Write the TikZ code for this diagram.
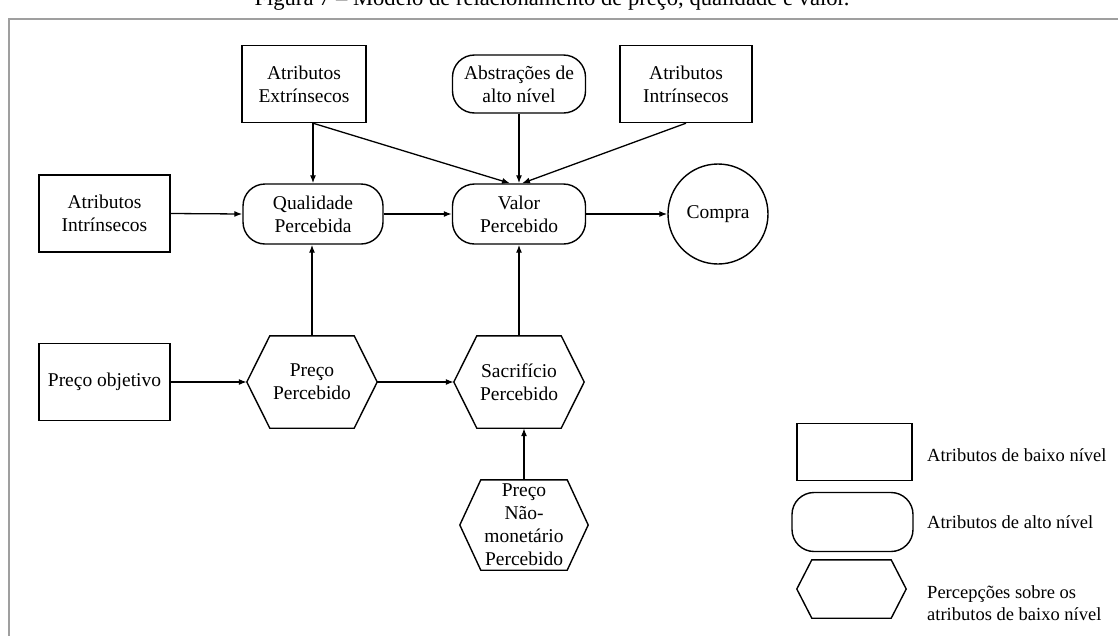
\documentclass[tikz,border=0pt]{standalone}
\usepackage{fontspec}
\setmainfont{Liberation Serif}
\usetikzlibrary{arrows.meta,calc}

% hexagonal outline drawn around a (borderless) rectangular node
\newcommand\hexoutline[2]{%
  \draw[line width=1.4pt]
    ($(#1.north west)+(#2,0)$) -- ($(#1.north east)+(-#2,0)$) -- (#1.east)
    -- ($(#1.south east)+(-#2,0)$) -- ($(#1.south west)+(#2,0)$) -- (#1.west) -- cycle;}

\begin{document}
\begin{tikzpicture}[x=1pt,y=-1pt,
  every node/.style={font=\fontsize{19.5}{23}\selectfont, align=center, inner sep=0pt},
  lowbox/.style={draw, line width=1.4pt, minimum width=131pt, minimum height=77pt},
  highbox/.style={draw, line width=1.4pt, rounded corners=22pt, minimum width=140pt, minimum height=60pt},
  hexbox/.style={minimum width=130pt, minimum height=92pt},
  link/.style={line width=1.3pt, -{Latex[length=8pt,width=6pt]}},
  legendtext/.style={anchor=west, align=left, font=\fontsize{18.5}{22}\selectfont},
]
\useasboundingbox (0,0) rectangle (1118,635);
\clip (0,0) rectangle (1118,635);

% caption and frame
\node[anchor=base, font=\fontsize{22.6}{26}\selectfont] (title) at (552,5.5)
  {Figura 7 -- Modelo de relacionamento de preço, qualidade e valor.};
\draw[gray!75, line width=2pt] (9,645) -- (9,19) -- (1130,19);

% top row
\node[lowbox, minimum width=124pt] (ext) at (304,84) {Atributos\\Extrínsecos};
\node[highbox, minimum width=133pt, minimum height=58pt] (abs) at (519,84) {Abstrações de\\alto nível};
\node[lowbox, minimum width=132pt] (intT) at (686,84) {Atributos\\Intrínsecos};

% middle row
\node[lowbox] (intL) at (104.5,213.5) {Atributos\\Intrínsecos};
\node[highbox] (qual) at (313,214) {Qualidade\\Percebida};
\node[highbox, minimum width=133pt] (valor) at (519,214) {Valor\\Percebido};
\node[draw, circle, line width=1.4pt, minimum size=100pt] (compra) at (718,214) {Compra};

% price row
\node[lowbox] (po) at (104.5,382) {Preço objetivo};
\node[hexbox] (pp) at (312,382) {Preço\\Percebido};
\hexoutline{pp}{23}
\node[hexbox] (sac) at (519,382) {Sacrifício\\Percebido};
\hexoutline{sac}{23}
\node[hexbox, minimum width=128pt, minimum height=90pt] (pnm) at (524,525) {Preço\\Não-\\monetário\\Percebido};
\hexoutline{pnm}{21}

% connectors
\coordinate (extfoot) at (qual.north |- ext.south);
\draw[link] (extfoot) -- (qual.north);
\draw[link] (extfoot) -- ($(valor.north)+(-9,0)$);
\draw[link] (abs.south) -- (valor.north);
\draw[link] (intT.south) -- ($(valor.north)+(3,0)$);
\draw[link] (intL.east) -- (qual.west);
\draw[link] (qual.east) -- (valor.west);
\draw[link] (valor.east) -- (compra.west);
\draw[link] (po.east) -- (pp.west);
\draw[link] (pp.east) -- (sac.west);
\draw[link] (pp.north) -- (pp.north |- qual.south);
\draw[link] (sac.north) -- (sac.north |- valor.south);
\draw[link] (pnm.north) -- (pnm.north |- sac.south);

% legend
\node[lowbox, minimum width=115pt, minimum height=57pt] (legLow) at (854.5,452) {};
\node[legendtext] (legLowText) at (927,455) {Atributos de baixo nível};
\node[highbox, minimum width=121pt, minimum height=59pt] (legHigh) at (852.5,522) {};
\node[legendtext] (legHighText) at (927,522) {Atributos de alto nível};
\node[hexbox, minimum width=109pt, minimum height=58pt] (legHex) at (851.5,589) {};
\hexoutline{legHex}{15}
\node[legendtext] (legHexText) at (927,603) {Percepções sobre os\\atributos de baixo nível};
\end{tikzpicture}
\end{document}
